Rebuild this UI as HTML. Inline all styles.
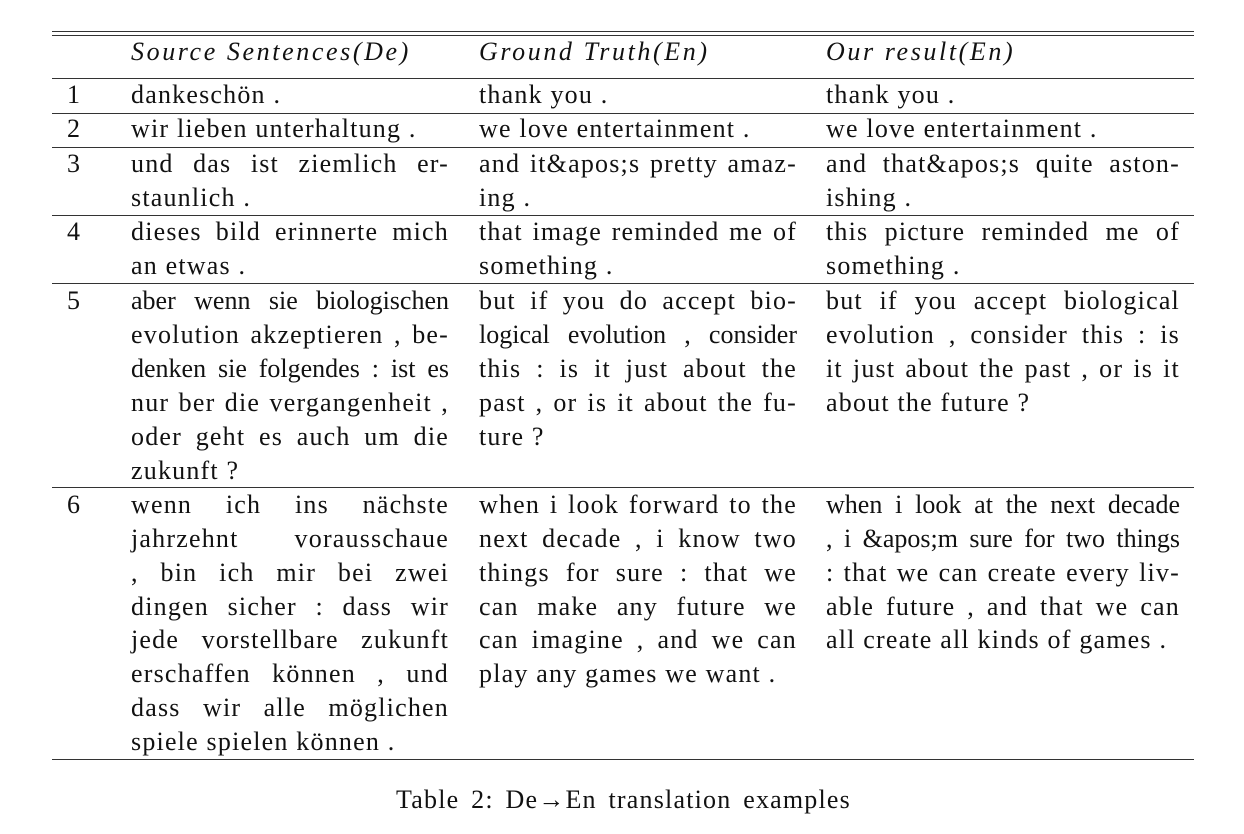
<!DOCTYPE html>
<html><head><meta charset="utf-8">
<style>
body{margin:0;background:#fff;width:1244px;height:834px;position:relative;overflow:hidden;font-family:"Liberation Serif",serif;color:#111;}
.h{position:absolute;left:52px;width:1142px;height:1px;background:#333;}
.t{position:absolute;font-size:26px;letter-spacing:1.2px;line-height:34px;height:34px;white-space:nowrap;}
.j{text-align:justify;text-align-last:justify;}
.k{letter-spacing:0px}
.c1{left:131px;width:318px}.c2{left:479px;width:318px}.c3{left:826px;width:354px}
.n{left:67px}
.i{font-style:italic;letter-spacing:2.6px}
</style></head><body>
<div class="h" style="top:31px"></div>
<div class="h" style="top:35px"></div>
<div class="h" style="top:78px"></div>
<div class="h" style="top:113px"></div>
<div class="h" style="top:147px"></div>
<div class="h" style="top:215px"></div>
<div class="h" style="top:283px"></div>
<div class="h" style="top:487px"></div>
<div class="h" style="top:759px"></div>

<div class="t c1 i" style="top:35px">Source Sentences(De)</div>
<div class="t c2 i" style="top:35px">Ground Truth(En)</div>
<div class="t c3 i" style="top:35px">Our result(En)</div>

<div>
<div class="t n" style="top:78px">1</div>
<div class="t c1" style="top:78px">dankeschön .</div>
<div class="t c2" style="top:78px">thank you .</div>
<div class="t c3" style="top:78px">thank you .</div>
</div>
<div>
<div class="t n" style="top:112px">2</div>
<div class="t c1" style="top:112px">wir lieben unterhaltung .</div>
<div class="t c2" style="top:112px">we love entertainment .</div>
<div class="t c3" style="top:112px">we love entertainment .</div>
</div>
<div>
<div class="t n" style="top:147px">3</div>
<div class="t c1 j" style="top:147px">und das ist ziemlich er-</div>
<div class="t c1" style="top:181px">staunlich .</div>
<div class="t c2 j" style="top:147px">and it&amp;apos;s pretty amaz-</div>
<div class="t c2" style="top:181px">ing .</div>
<div class="t c3 j" style="top:147px">and that&amp;apos;s quite aston-</div>
<div class="t c3" style="top:181px">ishing .</div>
</div>
<div>
<div class="t n" style="top:215px">4</div>
<div class="t c1 j" style="top:215px">dieses bild erinnerte mich</div>
<div class="t c1" style="top:249px">an etwas .</div>
<div class="t c2 j" style="top:215px">that image reminded me of</div>
<div class="t c2" style="top:249px">something .</div>
<div class="t c3 j" style="top:215px">this picture reminded me of</div>
<div class="t c3" style="top:249px">something .</div>
</div>
<div>
<div class="t n" style="top:284px">5</div>
<div class="t c1 j k" style="top:284px">aber wenn sie biologischen</div>
<div class="t c1 j" style="top:318px">evolution akzeptieren , be-</div>
<div class="t c1 j k" style="top:352px">denken sie folgendes : ist es</div>
<div class="t c1 j" style="top:386px">nur ber die vergangenheit ,</div>
<div class="t c1 j" style="top:420px">oder geht es auch um die</div>
<div class="t c1" style="top:454px">zukunft ?</div>
<div class="t c2 j" style="top:284px">but if you do accept bio-</div>
<div class="t c2 j k" style="top:318px">logical evolution , consider</div>
<div class="t c2 j" style="top:352px">this : is it just about the</div>
<div class="t c2 j" style="top:386px">past , or is it about the fu-</div>
<div class="t c2" style="top:420px">ture ?</div>
<div class="t c3 j" style="top:284px">but if you accept biological</div>
<div class="t c3 j" style="top:318px">evolution , consider this : is</div>
<div class="t c3 j" style="top:352px">it just about the past , or is it</div>
<div class="t c3" style="top:386px">about the future ?</div>
</div>
<div>
<div class="t n" style="top:488px">6</div>
<div class="t c1 j" style="top:488px">wenn ich ins nächste</div>
<div class="t c1 j" style="top:522px">jahrzehnt vorausschaue</div>
<div class="t c1 j" style="top:556px">, bin ich mir bei zwei</div>
<div class="t c1 j" style="top:590px">dingen sicher : dass wir</div>
<div class="t c1 j" style="top:623px">jede vorstellbare zukunft</div>
<div class="t c1 j" style="top:657px">erschaffen können , und</div>
<div class="t c1 j" style="top:691px">dass wir alle möglichen</div>
<div class="t c1" style="top:725px">spiele spielen können .</div>
<div class="t c2 j" style="top:488px">when i look forward to the</div>
<div class="t c2 j" style="top:522px">next decade , i know two</div>
<div class="t c2 j" style="top:556px">things for sure : that we</div>
<div class="t c2 j" style="top:590px">can make any future we</div>
<div class="t c2 j" style="top:623px">can imagine , and we can</div>
<div class="t c2" style="top:657px">play any games we want .</div>
<div class="t c3 j k" style="top:488px">when i look at the next decade</div>
<div class="t c3 j k" style="top:522px">, i &amp;apos;m sure for two things</div>
<div class="t c3 j" style="top:556px">: that we can create every liv-</div>
<div class="t c3 j" style="top:590px">able future , and that we can</div>
<div class="t c3" style="top:623px">all create all kinds of games .</div>
</div>

<div class="t" style="top:783px;left:396px;width:455px;text-align:justify;text-align-last:justify">Table 2: De→En translation examples</div>
</body></html>
